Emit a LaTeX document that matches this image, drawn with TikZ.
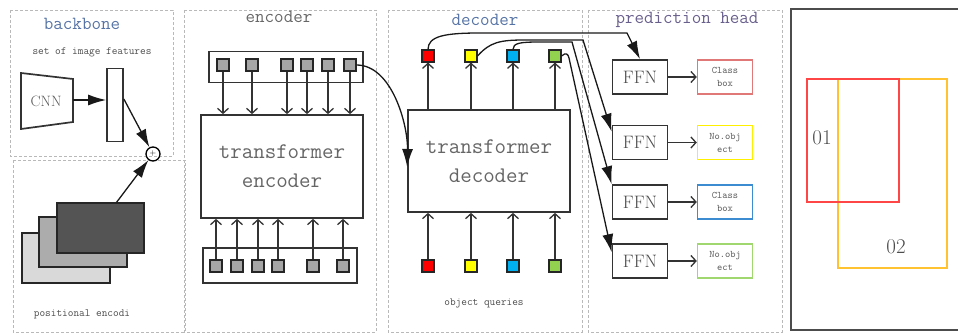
\documentclass[tikz,border=0pt]{standalone}
\usepackage{tikz}
\usetikzlibrary{arrows.meta}

\definecolor{qred}{RGB}{255,0,0}
\definecolor{qyellow}{RGB}{255,255,0}
\definecolor{qblue}{RGB}{0,176,240}
\definecolor{qgreen}{RGB}{146,208,80}
\definecolor{boxred}{RGB}{224,120,120}
\definecolor{boxyellow}{RGB}{255,240,0}
\definecolor{boxblue}{RGB}{60,140,210}
\definecolor{boxgreen}{RGB}{160,215,110}
\definecolor{titleblue}{RGB}{85,115,165}
\definecolor{titlepurple}{RGB}{105,95,140}
\definecolor{predred}{RGB}{255,70,70}
\definecolor{predyellow}{RGB}{255,195,50}

\tikzset{
	frame/.style={densely dashed, color=gray!55, line width=0.9pt},
	token/.style={draw=black!85, fill=gray!70, minimum size=12pt, inner sep=0pt, line width=1.1pt},
	block/.style={draw=black!80, line width=1.7pt, fill=white, inner sep=0pt},
	bigtip/.style={-{Latex[length=18pt,width=11pt]}, line width=1.3pt, color=black!90},
	opentip/.style={-{Straight Barb[length=5pt,width=11pt]}, line width=1.3pt, color=black!80},
	tiny/.style={font=\fontsize{11}{11}\ttfamily, text=black!70},
	title/.style={font=\fontsize{18.5}{18.5}\ttfamily},
	big/.style={align=center, font=\fontsize{22.3}{29}\ttfamily, text=black!60}
}

\begin{document}
\begin{tikzpicture}[x=1pt, y=-1pt]
	\useasboundingbox (0,0) rectangle (958,334);
	\draw [frame] (10,10) rectangle (173,156);
	\draw [frame] (13,160) rectangle (185,332);
	\draw [frame] (184,10) rectangle (376,332);
	\draw [frame] (388,10) rectangle (582,332);
	\draw [frame] (588,10) rectangle (782,332);

	% backbone
	\node [title, text=titleblue] (tbackbone) at (82,24) {backbone};
	\node [tiny] (tfeat) at (92,52) {set of image features};
	\draw [line width=1.7pt, black!80] (21,73) -- (73,79) -- (73,122) -- (21,129) -- cycle;
	\node [font=\fontsize{15}{15}\selectfont, text=black!65] (cnn) at (46,101) {CNN};
	\coordinate (cnnout) at (73,100);
	\node [block, minimum width=16pt, minimum height=73pt] (fbar) at (115,105) {};
	\draw [bigtip] (cnnout) -- (fbar.west |- cnnout);
	\node [circle, draw, line width=1.3pt, minimum size=14pt, inner sep=0pt, font=\footnotesize] (plus) at (153,154) {$+$};
	\draw [bigtip] ([yshift=6pt]fbar.east) -- (plus);

	\node [draw=black!85, fill=gray!30, line width=1.2pt, minimum width=88pt, minimum height=50pt] (pe3) at (66,258) {};
	\node [draw=black!85, fill=gray!65, line width=1.2pt, minimum width=88pt, minimum height=50pt] (pe2) at (83,242) {};
	\node [draw=black!85, fill=black!67, line width=1.2pt, minimum width=87pt, minimum height=50pt] (pe1) at (100.5,228) {};
	\draw [bigtip] ([xshift=16pt]pe1.north) -- (plus);
	\node [tiny] (tpos) at (82,314) {positional encodi};

	% encoder
	\node [title, text=black!60] (tencoder) at (279,17) {encoder};
	\node [block, minimum width=154pt, minimum height=31pt] (etop) at (286,67) {};
	\foreach \x [count=\i] in {223,252,287,307,328,350}
		\node [token] (et\i) at (\x,65) {};
	\node [block, big, minimum width=162pt, minimum height=103pt] (enc) at (282,166.5) {transformer\\encoder};
	\foreach \i in {1,...,6}
		\draw [opentip] (et\i) -- (et\i |- enc.north);
	\node [block, minimum width=154pt, minimum height=35pt] (ebot) at (280,265.5) {};
	\foreach \x [count=\i] in {216,237,258,278,313,343}
		\node [token] (eb\i) at (\x,266) {};
	\foreach \i in {1,...,6}
		\draw [opentip] (eb\i) -- (eb\i |- enc.south);

	% decoder
	\node [title, text=titleblue] (tdecoder) at (485,20) {decoder};
	\node [block, big, minimum width=162pt, minimum height=102pt] (dec) at (489,161) {transformer\\decoder};
	\foreach \x/\c [count=\i] in {428/qred,471/qyellow,513/qblue,555/qgreen} {
		\node [token, fill=\c] (dt\i) at (\x,56) {};
		\node [token, fill=\c] (dq\i) at (\x,266) {};
		\draw [opentip] (dq\i) -- (dq\i |- dec.south);
		\draw [opentip] (dq\i |- dec.north) -- (dt\i);
	}
	\node [tiny] (tqueries) at (484,303) {object queries};
	\draw [bigtip] (et6.east) .. controls (392,65) and (408,125) .. ([yshift=-6pt]dec.west);

	% prediction head
	\node [title, text=titlepurple] (thead) at (687,20) {prediction head};
	\foreach \y/\c/\t [count=\i] in {77/boxred/{Class\\box},142.5/boxyellow/{No.obj\\ect},202/boxblue/{Class\\box},261/boxgreen/{No.obj\\ect}} {
		\node [block, minimum width=55pt, minimum height=34pt, font=\fontsize{18}{18}\selectfont, text=black!70] (ffn\i) at (640,\y) {FFN};
		\node [draw=\c, line width=1.4pt, minimum width=55pt, minimum height=34pt, inner sep=0pt, align=center, font=\fontsize{10}{13}\ttfamily, text=black!65] (out\i) at (725,\y) {\t};
		\draw [opentip] (ffn\i) -- (out\i);
	}
	\draw [bigtip] (dt1.north) .. controls (428,36) and (445,33) .. (480,33) -- (627,33) -- (ffn1.north);
	\draw [bigtip] (dt2.east) .. controls (490,42) and (500,40) .. (525,40) -- (583,40) -- ([yshift=-7pt]ffn2.north west);
	\draw [bigtip] (dt3.north) .. controls (513,43) and (520,42) .. (540,42) -- (572,42) -- (ffn3.north west);
	\draw [bigtip] (dt4.east) .. controls (566,52) and (568,54) .. (569,58) -- ([yshift=-9pt]ffn4.north west);

	% boxes
	\draw [line width=2pt, black!70] (791,9) rectangle (975,330);
	\draw [line width=1.5pt, predyellow] (838,79) rectangle (947,268);
	\draw [line width=1.5pt, predred] (807,79) rectangle (899,202);
	\node [font=\fontsize{21}{21}\selectfont, text=black!70] (lone) at (822,138) {01};
	\node [font=\fontsize{21}{21}\selectfont, text=black!70] (ltwo) at (896,247) {02};
\end{tikzpicture}
\end{document}
